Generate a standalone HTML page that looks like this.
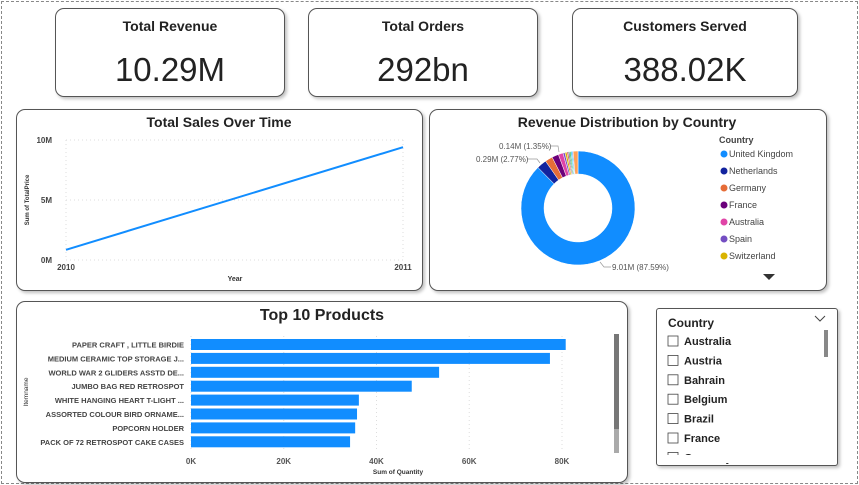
<!DOCTYPE html>
<html><head><meta charset="utf-8"><style>
body{margin:0;width:859px;height:485px;background:#fff;font-family:"Liberation Sans",sans-serif;position:relative;overflow:hidden}
.frame{position:absolute;left:1px;top:1px;width:855px;height:481px;border:1px dashed #888}
.card{position:absolute;background:#fff;border:1px solid #555;border-radius:9px;box-shadow:2px 2px 3px rgba(0,0,0,.25)}
.kt{position:absolute;left:0;right:0;top:9px;text-align:center;font-weight:bold;font-size:14px;color:#222}
.kv{position:absolute;left:0;right:0;top:42px;text-align:center;font-size:33px;color:#222}
svg text{font-family:"Liberation Sans",sans-serif}
</style></head><body>
<div class="frame"></div>
<div class="card" style="left:55px;top:8px;width:228px;height:87px"><div class="kt">Total Revenue</div><div class="kv">10.29M</div></div>
<div class="card" style="left:308px;top:8px;width:228px;height:87px"><div class="kt">Total Orders</div><div class="kv">292bn</div></div>
<div class="card" style="left:572px;top:8px;width:224px;height:87px"><div class="kt">Customers Served</div><div class="kv">388.02K</div></div>

<div class="card" style="left:16px;top:109px;width:405px;height:180px"></div>
<div class="card" style="left:429px;top:109px;width:396px;height:180px"></div>
<div class="card" style="left:16px;top:301px;width:610px;height:180px"></div>
<div class="card" style="left:656px;top:308px;width:180px;height:156px;border-radius:3px"></div>

<svg id="s" width="859" height="485" style="position:absolute;left:0;top:0">
<text x="219" y="127" text-anchor="middle" font-weight="bold" font-size="14" fill="#222">Total Sales Over Time</text>
<text x="627" y="127" text-anchor="middle" font-weight="bold" font-size="14" fill="#222">Revenue Distribution by Country</text>
<text x="322" y="320" text-anchor="middle" font-weight="bold" font-size="16" fill="#222">Top 10 Products</text>
<g id="line"></g><g id="donut"></g><g id="bars"></g><g id="slicer"></g>
</svg>
<script>
const NS="http://www.w3.org/2000/svg";
function mk(p,t,a,txt){const e=document.createElementNS(NS,t);for(const k in a)e.setAttribute(k,a[k]);if(txt!=null)e.textContent=txt;p.appendChild(e);return e;}
// line chart data
const years=["2010","2011"];
const sales=[0.85,9.4];
const yTicks=[0,5,10];
const yTickLabels=["0M","5M","10M"];
// donut data
const countries=["United Kingdom","Netherlands","Germany","France","Australia","Spain","Switzerland","Belgium","Sweden","Japan","Norway","Portugal","Other"];
const shares=[87.59,2.77,2.15,1.9,1.35,0.55,0.55,0.4,0.35,0.35,0.35,0.3,1.39];
const colors=["#118DFF","#12239E","#E66C37","#6B007B","#E044A7","#744EC2","#D9B300","#D64550","#197278","#1AAB40","#15C6F4","#4092FF","#FFA058"];
// bar data
const products=["PAPER CRAFT , LITTLE BIRDIE","MEDIUM CERAMIC TOP STORAGE J...","WORLD WAR 2 GLIDERS ASSTD DE...","JUMBO BAG RED RETROSPOT","WHITE HANGING HEART T-LIGHT ...","ASSORTED COLOUR BIRD ORNAME...","POPCORN HOLDER","PACK OF 72 RETROSPOT CAKE CASES"];
const qty=[80.8,77.4,53.5,47.6,36.2,35.8,35.4,34.3];
const xTicks=[0,20,40,60,80];
const xTickLabels=["0K","20K","40K","60K","80K"];
const slicerItems=["Australia","Austria","Bahrain","Belgium","Brazil","France","Germany"];

// LINE
const L=document.getElementById('line');
const lx=i=>66+i*(403-66)/(years.length-1), ly=v=>260-v*12;
yTicks.forEach((t,i)=>{
 let g=mk(L,'line',{x1:66,x2:405,y1:ly(t),y2:ly(t),stroke:"#ddd","stroke-dasharray":"1 3"});
 
 let tx=mk(L,'text',{x:52,y:ly(t)+3,"text-anchor":"end","font-size":8,fill:"#444","font-weight":"bold"},yTickLabels[i]);
 
});
mk(L,'line',{x1:66,x2:66,y1:140,y2:260,stroke:"#ddd","stroke-dasharray":"1 3"});
mk(L,'line',{x1:403,x2:403,y1:140,y2:260,stroke:"#ddd","stroke-dasharray":"1 3"});
years.forEach((y,i)=>{let tx=mk(L,'text',{x:lx(i),y:270,"text-anchor":"middle","font-size":8,fill:"#444","font-weight":"bold"},y);
 });
let pl=mk(L,'polyline',{points:sales.map((v,i)=>lx(i)+","+ly(v)).join(" "),fill:"none",stroke:"#118DFF","stroke-width":2});

let xt=mk(L,'text',{x:235,y:281,"text-anchor":"middle","font-size":7,"font-weight":"bold",fill:"#333"},"Year");

let yt=mk(L,'text',{x:0,y:0,transform:"translate(29,200) rotate(-90)","text-anchor":"middle","font-size":6,"font-weight":"bold",fill:"#333"},"Sum of TotalPrice");


// DONUT
const D=document.getElementById('donut');
const cx=578,cy=208,R=57,r=34;const tot=shares.reduce((a,b)=>a+b,0);
let a0=0;
shares.forEach((s,i)=>{const a1=a0+s/tot*2*Math.PI;
 const p=(a,rad)=>[cx+rad*Math.sin(a),cy-rad*Math.cos(a)];
 const [x0,y0]=p(a0,R),[x1,y1]=p(a1,R),[x2,y2]=p(a1,r),[x3,y3]=p(a0,r);const lg=(a1-a0)>Math.PI?1:0;
 let e=mk(D,'path',{d:`M${x0},${y0}A${R},${R} 0 ${lg} 1 ${x1},${y1}L${x2},${y2}A${r},${r} 0 ${lg} 0 ${x3},${y3}Z`,fill:colors[i],stroke:"#fff","stroke-width":0.5});
 
 a0=a1;});
mk(D,'polyline',{points:"600,262 604,267 611,267",fill:"none",stroke:"#999","stroke-width":0.7});
mk(D,'text',{x:612,y:270,"font-size":8,fill:"#555"},"9.01M (87.59%)");
mk(D,'polyline',{points:"527,159 537,159 540,163",fill:"none",stroke:"#999","stroke-width":0.7});
mk(D,'text',{x:476,y:162,"font-size":8,fill:"#555"},"0.29M (2.77%)");
mk(D,'polyline',{points:"551,146 558,146 559,152",fill:"none",stroke:"#999","stroke-width":0.7});
mk(D,'text',{x:499,y:149,"font-size":8,fill:"#555"},"0.14M (1.35%)");
mk(D,'text',{x:719,y:143,"font-size":9,"font-weight":"bold",fill:"#444"},"Country");
for(let i=0;i<7;i++){let g=mk(D,'g',{});
 
 mk(g,'circle',{cx:724,cy:154+i*17,r:3.5,fill:colors[i]});
 mk(g,'text',{x:729,y:157+i*17,"font-size":9,fill:"#444"},countries[i]);}
mk(D,'path',{d:"M763,274 L775,274 L769,280Z",fill:"#333"});

// BARS
const B=document.getElementById('bars');
const bx=v=>191+v*(562-191)/80;
xTicks.forEach((t,i)=>{mk(B,'line',{x1:bx(t),x2:bx(t),y1:336,y2:452,stroke:"#ddd","stroke-dasharray":"1 3"});
 let tx=mk(B,'text',{x:bx(t),y:464,"text-anchor":"middle","font-size":8,"font-weight":"bold",fill:"#555"},xTickLabels[i]);
 });
products.forEach((p,i)=>{const y=339+i*13.9;
 let rc=mk(B,'rect',{x:191,y:y,width:bx(qty[i])-191,height:11,fill:"#118DFF"});
 
 let tx=mk(B,'text',{x:184,y:y+8.5,"text-anchor":"end","font-size":7.5,"font-weight":"bold",fill:"#444"},p);
 });
mk(B,'text',{x:398,y:474,"text-anchor":"middle","font-size":6.5,"font-weight":"bold",fill:"#333"},"Sum of Quantity");
mk(B,'text',{x:0,y:0,transform:"translate(28,392) rotate(-90)","text-anchor":"middle","font-size":6.5,fill:"#333"},"Itemname");
let sb=mk(B,'rect',{x:614,y:334,width:5,height:119,fill:"#aaa"});

mk(B,'rect',{x:614,y:334,width:5,height:95,fill:"#777"});

// SLICER
const S=document.getElementById('slicer');
mk(S,'text',{x:668,y:327,"font-size":12,"font-weight":"bold",fill:"#222"},"Country");
mk(S,'polyline',{points:"815,316 820,321 825,316",fill:"none",stroke:"#444","stroke-width":1});
mk(S,'rect',{x:824,y:330,width:4,height:27,fill:"#888"});
slicerItems.forEach((c,i)=>{const y=341+i*19.4;let g=mk(S,'g',{});
 
 mk(g,'rect',{x:668,y:y-5,width:10,height:10,fill:"#fff",stroke:"#444","stroke-width":0.8});
 mk(g,'text',{x:684,y:y+4,"font-size":11,"font-weight":"bold",fill:"#222"},c);});
mk(S,'rect',{x:660,y:455,width:170,height:8,fill:"#fff"});
</script>
</body></html>
